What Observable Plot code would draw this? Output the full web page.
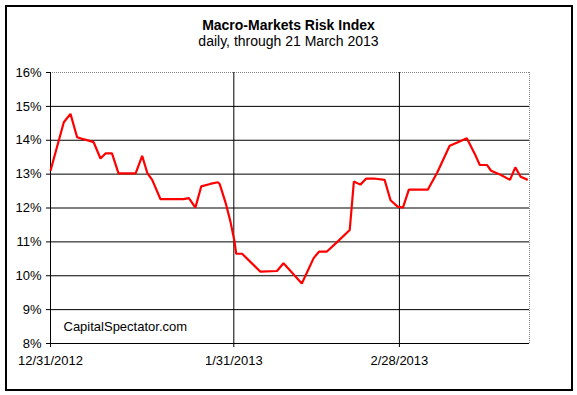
<!DOCTYPE html>
<html>
<head>
<meta charset="utf-8">
<script src="https://cdn.jsdelivr.net/npm/d3@7"></script>
<script src="https://cdn.jsdelivr.net/npm/@observablehq/plot@0.6"></script>
<style>
  html, body { margin: 0; padding: 0; background: #fff; }
  #wrap { position: relative; width: 577px; height: 395px; font-family: "Liberation Sans", Arial, sans-serif; }
  #frame { position: absolute; left: 5px; top: 5px; width: 568px; height: 386px; box-sizing: border-box; border: 2px solid #000; }
  .t { position: absolute; left: 0; width: 577px; text-align: center; font-size: 14px; line-height: 16px; color: #000; white-space: nowrap; }
  #title { top: 17px; font-weight: bold; }
  #subtitle { top: 33px; }
  #chart { position: absolute; left: 0; top: 0; }
</style>
</head>
<body>
<div id="wrap">
  <div id="frame"></div>
  <div class="t" id="title">Macro-Markets Risk Index</div>
  <div class="t" id="subtitle">daily, through 21 March 2013</div>
  <div id="chart"></div>
</div>
<script>
// Data: position in days after 31 Dec 2012, and index value (%)
const startDate = "2012-12-31";
const endDate = "2013-03-22";
const dayOffsets = [0, 2.25, 3.38, 4.5, 5.36, 6.47, 7.3, 8.45, 9.3, 10.4, 11.5, 14.4, 15.5, 16.4, 17.2, 18.6, 22.5, 23.4, 24.5, 25.5,
  27, 28.3, 28.6, 29.6, 30.4, 31.1, 31.4, 32.4, 35.5, 38.3, 39.4, 42.5, 44.5, 45.4, 46.7, 48.5, 50.6, 51.3, 52.4, 53.4,
  54.7, 56.5, 57.5, 58.7, 59.6, 60.6, 63.8, 65.4, 67.5, 68.9, 70.4, 71.9, 72.6, 73.8, 74.5, 76.1, 77.7, 78.6, 79.5, 80.7];
const riskValues = [13.10, 14.53, 14.78, 14.09, 14.04, 13.99, 13.94, 13.46, 13.61, 13.61, 13.02, 13.02, 13.54, 13.02, 12.83, 12.26, 12.26, 12.29, 12.01, 12.64,
  12.71, 12.76, 12.71, 12.16, 11.62, 11.03, 10.65, 10.65, 10.12, 10.14, 10.37, 9.77, 10.52, 10.71, 10.71, 11.0, 11.35, 12.78, 12.69, 12.87,
  12.87, 12.83, 12.23, 12.04, 12.01, 12.54, 12.54, 13.05, 13.84, 13.94, 14.06, 13.54, 13.27, 13.27, 13.10, 12.98, 12.83, 13.2, 12.92, 12.83];
const yTicks = [8, 9, 10, 11, 12, 13, 14, 15, 16];
const xTickDates = ["2012-12-31", "2013-01-31", "2013-02-28"];
const xTickLabels = ["12/31/2012", "1/31/2013", "2/28/2013"];
const sourceNote = "CapitalSpectator.com";

const t0 = new Date(startDate + "T00:00:00Z");
const t1 = new Date(endDate + "T00:00:00Z");
const data = dayOffsets.map((d, i) => ({date: new Date(t0.getTime() + d * 86400000), value: riskValues[i]}));
const tickDates = xTickDates.map(s => new Date(s + "T00:00:00Z"));
const labelOf = new Map(tickDates.map((d, i) => [d.getTime(), xTickLabels[i]]));

const chart = Plot.plot({
  width: 577,
  height: 395,
  marginLeft: 50,
  marginRight: 48,
  marginTop: 72,
  marginBottom: 52,
  style: {fontFamily: "'Liberation Sans', Arial, sans-serif", fontSize: "13px", color: "#000", background: "transparent", overflow: "visible"},
  x: {type: "utc", domain: [t0, t1]},
  y: {domain: [8, 16]},
  marks: [
    Plot.ruleY(yTicks.filter(v => v < 16), {stroke: "#000", strokeWidth: 1}),
    Plot.ruleY([16], {stroke: "#808080", strokeDasharray: "1,1"}),
    Plot.ruleX([t1], {stroke: "#808080", strokeDasharray: "1,1"}),
    Plot.ruleX(tickDates, {stroke: "#000", strokeWidth: 1}),
    Plot.axisY({ticks: yTicks, tickSize: 4, tickPadding: 5, tickFormat: d => d + "%", label: null, stroke: "#000"}),
    Plot.axisX({ticks: tickDates, tickSize: 4, tickPadding: 8, tickFormat: d => labelOf.get(d.getTime()), label: null, stroke: "#000"}),
    Plot.text([sourceNote], {frameAnchor: "bottom-left", textAnchor: "start", lineAnchor: "bottom", dx: 13, dy: -13, fill: "#000"}),
    Plot.line(data, {x: "date", y: "value", stroke: "#ff0000", strokeWidth: 2.2, strokeLinejoin: "miter", strokeLinecap: "butt"})
  ]
});
document.getElementById("chart").appendChild(chart);
</script>
</body>
</html>
